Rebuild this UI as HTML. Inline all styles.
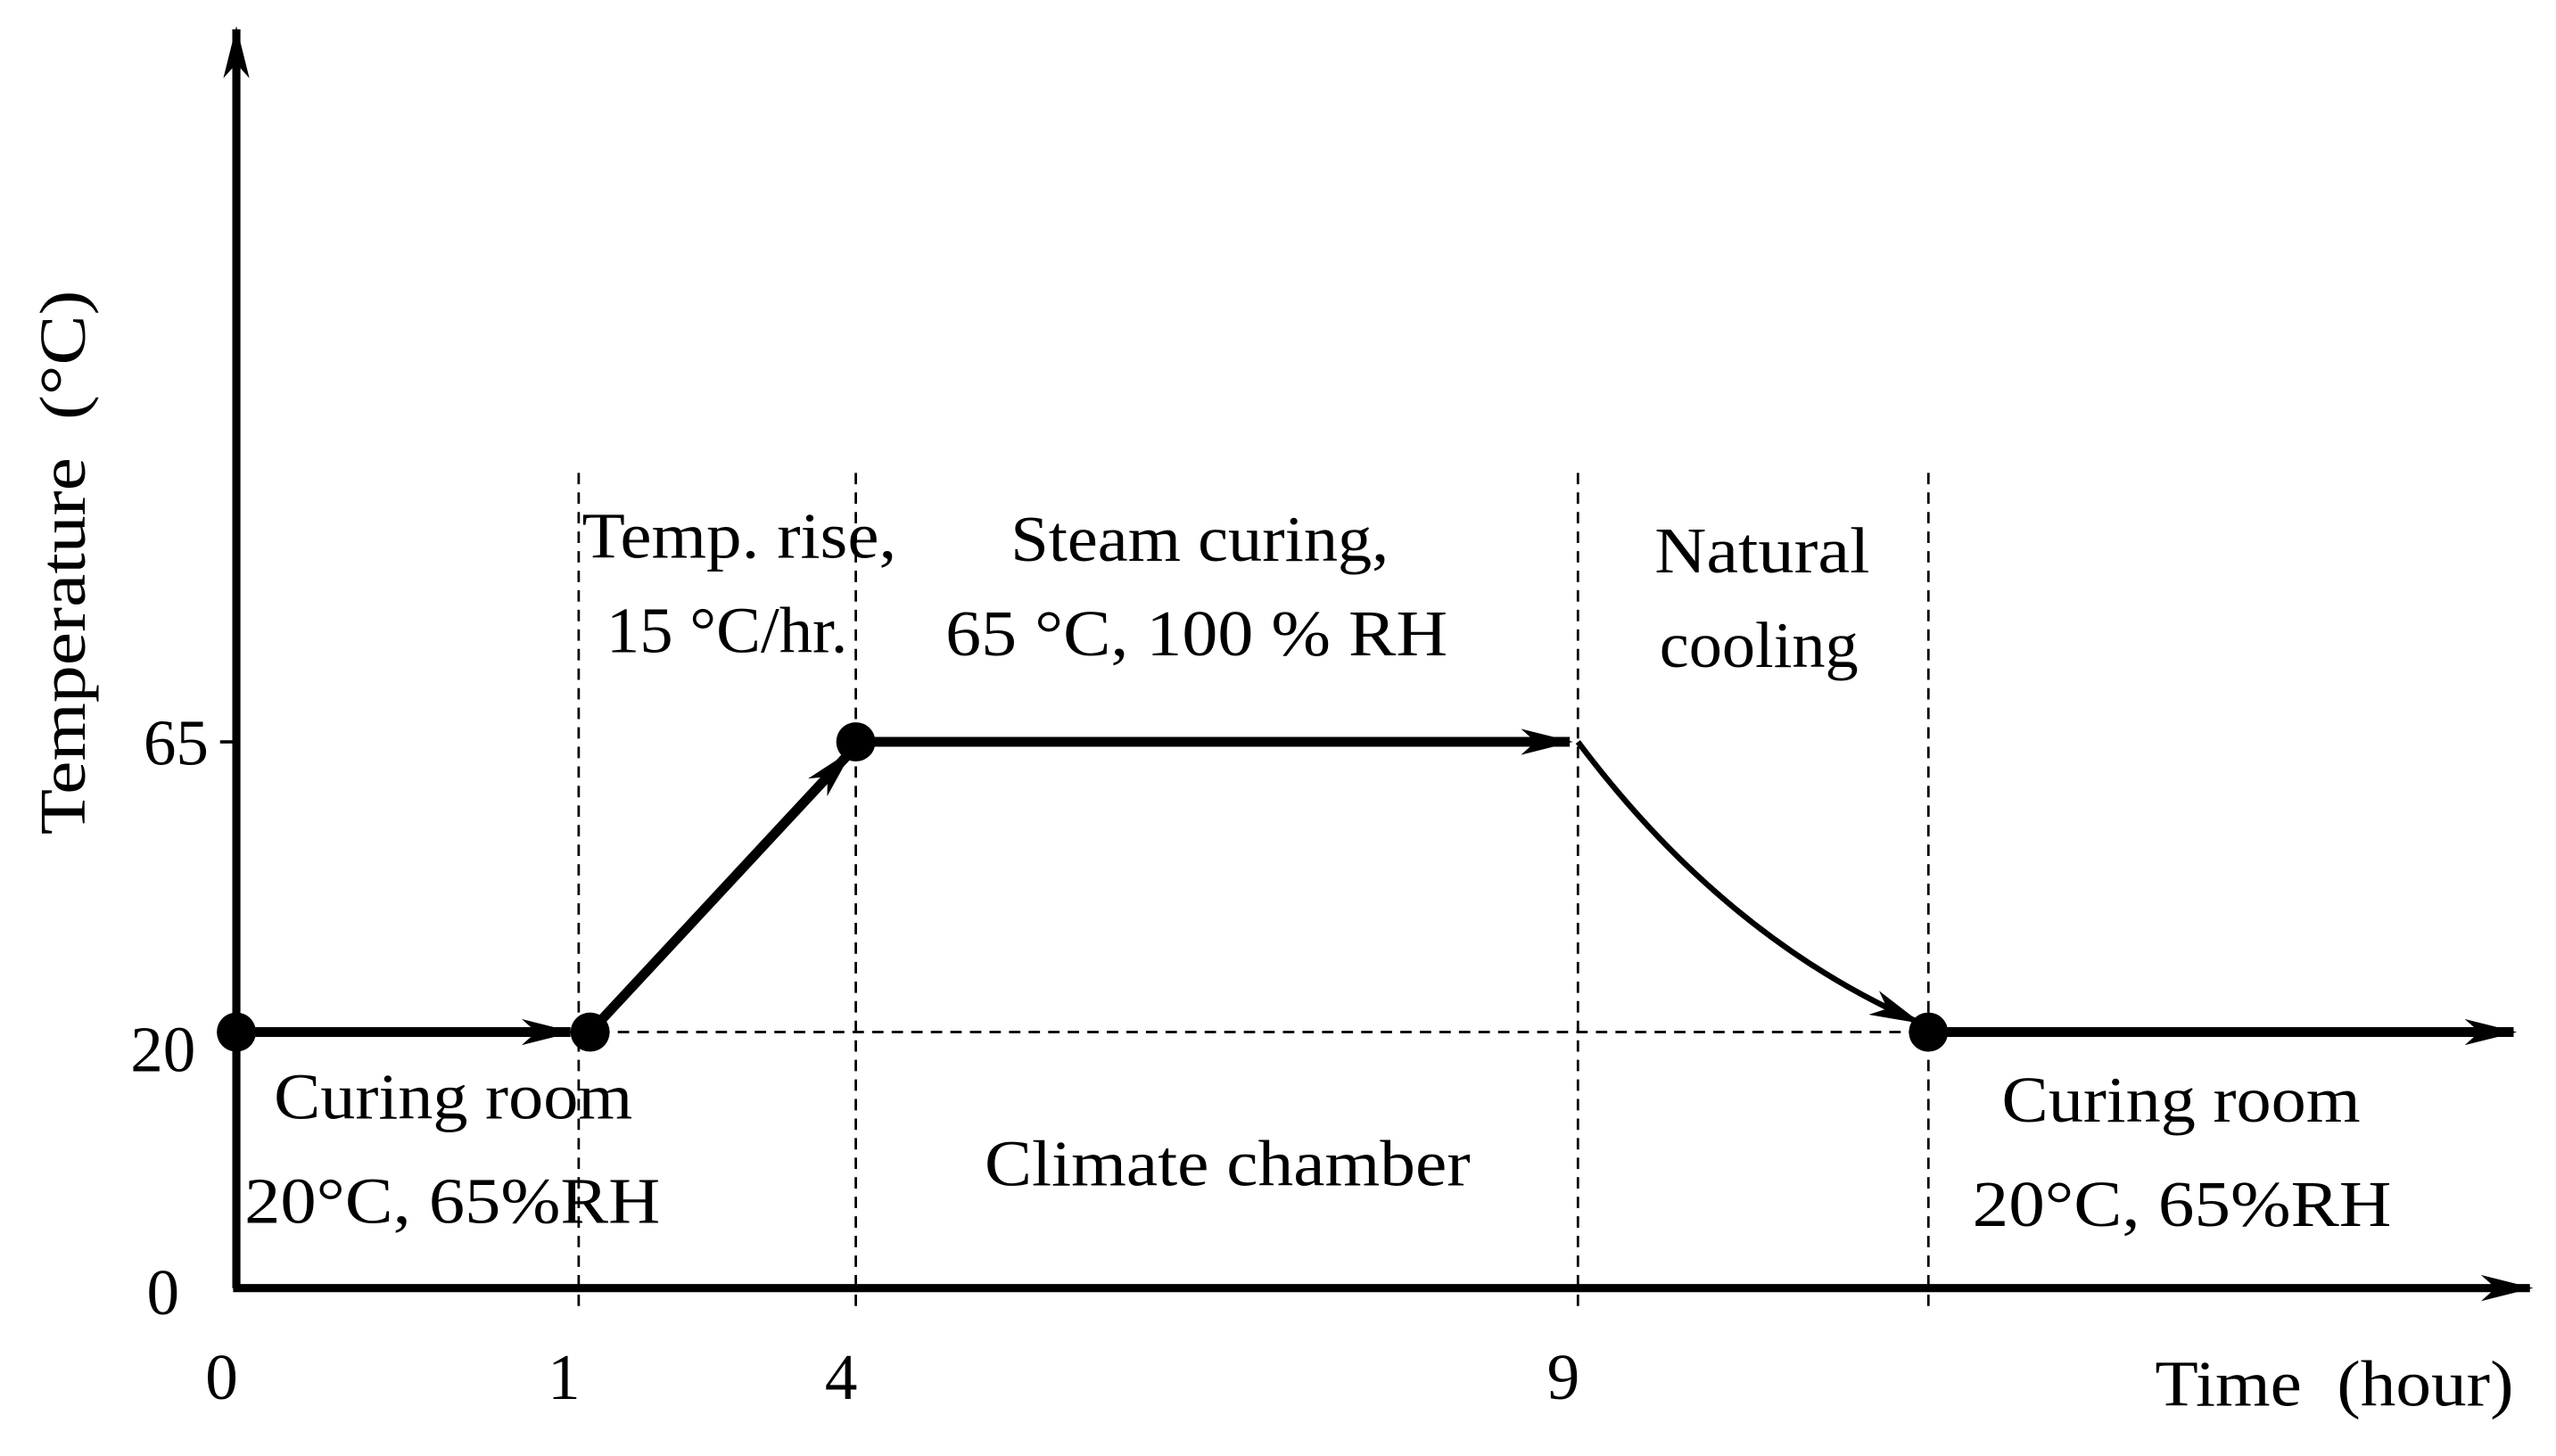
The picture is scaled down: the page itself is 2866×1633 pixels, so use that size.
<!DOCTYPE html>
<html><head><meta charset="utf-8"><style>
html,body{margin:0;padding:0;background:#fff}
svg{display:block}
text{font-family:"Liberation Serif",serif;fill:#000}
</style></head><body>
<svg id="chart" width="2866" height="1633" viewBox="0 0 1568 893" preserveAspectRatio="none" xmlns="http://www.w3.org/2000/svg">
<defs>
<marker id="ah" viewBox="0 0 32 16" refX="30" refY="8" markerWidth="32" markerHeight="16" markerUnits="userSpaceOnUse" orient="auto"><path d="M0,0 L32,8 L0,16 L9,8 z" fill="#000"/></marker>
</defs>
<g id="g"></g>
</svg>
<script>
// data
const hours = [0, 1, 4, 9, 10];
const temps = [20, 20, 65, 65, 20];
const tempTicks = [0, 20, 65];
const hourTicks = ["0", "1", "4", "9"];
const hourTickVals = [0, 1, 4, 9];

// axis functions (piecewise time axis as in figure)
const hBreak = [0, 1, 4, 9, 10];
const hPix = [145, 355, 525, 968, 1183];
function X(h){
  for(let i=0;i<hBreak.length-1;i++){
    if(h<=hBreak[i+1]){const t=(h-hBreak[i])/(hBreak[i+1]-hBreak[i]);return hPix[i]+t*(hPix[i+1]-hPix[i]);}
  }
  return hPix[hPix.length-1];
}
function Y(v){ // 0->790, 20->633, 65->455
  if(v<=20) return 790 - v*(157/20);
  return 633 - (v-20)*(178/45);
}
const NS="http://www.w3.org/2000/svg";
const g=document.getElementById('g');
function el(tag,attrs,parent){const e=document.createElementNS(NS,tag);for(const k in attrs)e.setAttribute(k,attrs[k]);(parent||g).appendChild(e);return e;}

// axes
let a=el('line',{x1:145,y1:790,x2:145,y2:18,stroke:'#000','stroke-width':5,'marker-end':'url(#ah)'});


a=el('line',{x1:143,y1:790,x2:1552,y2:790,stroke:'#000','stroke-width':5,'marker-end':'url(#ah)'});



// y ticks
const yLabelX={0:110,20:120,65:128};
tempTicks.forEach(v=>{
  const y=Y(v);
  if(v===65){const t=el('line',{x1:135,y1:y,x2:145,y2:y,stroke:'#000','stroke-width':2});
  
  }
  const tx=el('text',{x:yLabelX[v],y:y+(v===20?24:(v===0?16:14)),'font-size':40,'text-anchor':'end'});
  tx.textContent=v;
  
  
});
// x tick labels
hourTickVals.forEach((h,i)=>{
  const tx=el('text',{x:X(h)-9,y:858,'font-size':40,'text-anchor':'middle'});
  tx.textContent=hourTicks[i];
  
  
});

// dashed verticals
[1,4,9,10].forEach(h=>{
  const l=el('line',{x1:X(h),y1:290,x2:X(h),y2:805,stroke:'#000','stroke-width':1.5,'stroke-dasharray':'7,5'});
  
  
});
// dashed baseline
let d=el('line',{x1:X(1),y1:Y(20),x2:X(10),y2:Y(20),stroke:'#000','stroke-width':1.5,'stroke-dasharray':'7,5'});



// segments
function seg(x1,y1,x2,y2,name){const s=el('line',{x1,y1,x2,y2,stroke:'#000','stroke-width':6,'marker-end':'url(#ah)'});
  
  }
seg(X(hours[0]),Y(temps[0]),X(hours[1])-5,Y(temps[1]),'segment-curing-room');
seg(X(hours[1])+7,Y(temps[1]),X(hours[2])-3,Y(temps[2])+6,'segment-temp-rise');
seg(X(hours[2]),Y(temps[2]),X(hours[3])-5,Y(temps[3]),'segment-steam-curing');
{const x1=X(hours[3]),y1=Y(temps[3]),x2=X(hours[4])-6,y2=Y(temps[4])-6;
 const c=el('path',{d:`M${x1},${y1} Q${x1+90},${y1+120} ${x2},${y2}`,fill:'none',stroke:'#000','stroke-width':3.5,'marker-end':'url(#ah)'});
 
 }
seg(X(hours[4]),Y(temps[4]),1542,Y(temps[4]),'segment-curing-room-after');

// points
const dotX=[X(hours[0]),X(hours[1])+7,X(hours[2]),X(hours[4])];
const dotY=[Y(temps[0]),Y(temps[1]),Y(temps[2]),Y(temps[4])];
dotX.forEach((x,i)=>{const c=el('circle',{cx:x,cy:dotY[i],r:12,fill:'#000'});
  
  });

// text labels
function label(x,y,s,w,name,extra){const t=el('text',Object.assign({x,y,'font-size':40,textLength:w,lengthAdjust:'spacingAndGlyphs'},extra||{}));t.textContent=s;
  
  return t;}
label(357,342,'Temp. rise,',193,'label-temp-rise');
label(372,400,'15 °C/hr.',148,'label-rate');
label(620,344,'Steam curing,',232,'label-steam-curing');
label(580,402,'65 °C, 100 % RH',308,'label-steam-conditions');
label(1015,351,'Natural',132,'label-natural');
label(1018,409,'cooling',122,'label-cooling');
label(168,686,'Curing room',220,'label-curing-room-left');
label(150,750,'20°C, 65%RH',255,'label-conditions-left');
label(604,727,'Climate chamber',298,'label-climate-chamber');
label(1228,688,'Curing room',220,'label-curing-room-right');
label(1210,752,'20°C, 65%RH',257,'label-conditions-right');
label(1322,862,'Time\u00a0\u00a0(hour)',220,'x-axis-title');
label(-512,52,'Temperature\u00a0\u00a0(°C)',334,'y-axis-title',{transform:'rotate(-90)'});
</script>
</body></html>
